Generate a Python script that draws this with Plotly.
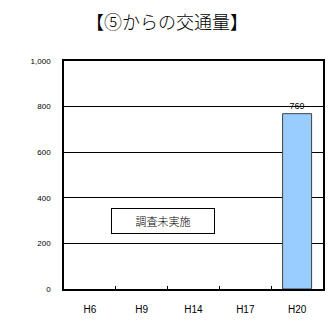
import plotly.graph_objects as go

categories = ["H6", "H9", "H14", "H17", "H20"]
values = [None, None, None, None, 769]
value_labels = ["", "", "", "", "769"]
y_ticks = [0, 200, 400, 600, 800, 1000]
title_text = "【⑤からの交通量】"
note_text = "調査未実施"

fig = go.Figure()
fig.add_trace(go.Bar(
    x=categories, y=values,
    text=value_labels, textposition="outside",
    textfont=dict(size=9, color="black"),
    marker=dict(color="#99CCFF", line=dict(color="#404040", width=1)),
    width=0.56, cliponaxis=False,
))

fig.add_annotation(
    x=1.42, y=300, xref="x", yref="y",
    text=note_text, showarrow=False,
    font=dict(size=11, color="black", family="Noto Sans CJK JP", weight=300),
    bordercolor="black", borderwidth=1, borderpad=4,
    bgcolor="white", width=94,
)

fig.update_layout(
    width=334, height=326,
    margin=dict(l=64, r=9, t=61, b=37),
    paper_bgcolor="white", plot_bgcolor="white",
    font=dict(family="Liberation Sans, Arial, sans-serif", color="black"),
    title=dict(text=title_text, x=0.5, xanchor="center", y=0.93, yanchor="middle",
               font=dict(size=18, family="Noto Sans CJK JP", color="black", weight=300)),
    showlegend=False,
    bargap=0.44,
)
fig.update_xaxes(
    type="category", categoryorder="array", categoryarray=categories,
    range=[-0.5, 4.5],
    showline=True, linecolor="black", linewidth=1.5, mirror=True,
    ticks="inside", ticklen=3, tickcolor="black", tickson="boundaries",
    tickfont=dict(size=10), ticklabelstandoff=10,
    showgrid=False,
)
fig.update_yaxes(
    range=[0, 1000], tickvals=y_ticks, tickformat=",",
    showline=True, linecolor="black", linewidth=1.5, mirror=True,
    showgrid=True, gridcolor="black", gridwidth=1,
    ticks="", tickfont=dict(size=8), ticklabelstandoff=10,
    zeroline=False,
)

fig.write_html("out.html", config={"displayModeBar": False},
               post_script="document.body.style.margin='0';")
